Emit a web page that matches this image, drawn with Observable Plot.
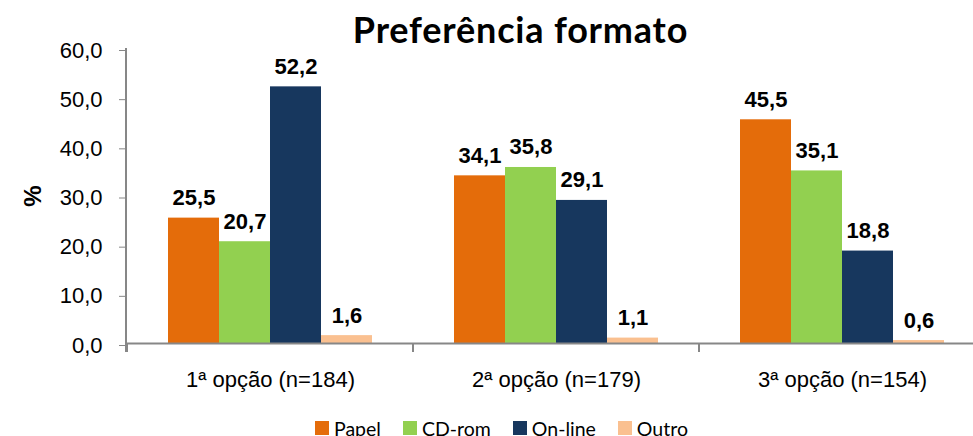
<!DOCTYPE html>
<html><head><meta charset="utf-8">
<script src="https://cdn.jsdelivr.net/npm/d3@7"></script>
<script src="https://cdn.jsdelivr.net/npm/@observablehq/plot@0.6"></script>
<style>
body{margin:0;background:#fff;width:973px;height:436px;overflow:hidden;}
#title{height:28px;width:973px;box-sizing:border-box;padding-left:68px;text-align:center;font-family:Lato,"Open Sans",sans-serif;font-weight:bold;font-size:36px;letter-spacing:0.8px;line-height:40px;padding-top:9px;color:#000;position:relative;z-index:1;white-space:nowrap;}
#chart svg{display:block;overflow:visible;}
#legend{height:36px;width:973px;box-sizing:border-box;padding-left:30px;display:flex;justify-content:center;align-items:flex-start;padding-top:21px;font-family:Lato,"Open Sans",sans-serif;font-size:19.5px;color:#000;}
#legend .item{display:flex;align-items:flex-start;margin:0 11px;}
#legend .sw{width:14px;height:14px;margin-right:5px;}
#legend .lb{line-height:14px;margin-top:1px;}
</style></head><body>
<div id="title">Preferência formato</div>
<div id="chart"></div>
<div id="legend"></div>
<script>
const categories = ["1ª opção (n=184)", "2ª opção (n=179)", "3ª opção (n=154)"];
const series = ["Papel", "CD-rom", "On-line", "Outro"];
const papel = [25.5, 34.1, 45.5];
const cdrom = [20.7, 35.8, 35.1];
const online = [52.2, 29.1, 18.8];
const outro = [1.6, 1.1, 0.6];
const yTicks = [0, 10, 20, 30, 40, 50, 60];
const colors = ["#E46C0A", "#92D050", "#17375E", "#FAC090"];

const seriesValues = [papel, cdrom, online, outro];
const data = categories.flatMap((c, i) => series.map((s, j) => ({category: c, series: s, value: seriesValues[j][i]})));
const fmt = v => v.toFixed(1).replace(".", ",");
const sans = "'Liberation Sans', Arial, sans-serif";

const plot = Plot.plot({
  width: 973, height: 372,
  marginTop: 20, marginBottom: 57, marginLeft: 126, marginRight: -12,
  style: {fontFamily: sans, color: "#000", background: "#fff"},
  fx: {domain: categories, padding: 0, label: null},
  x: {domain: series, paddingInner: 0, paddingOuter: 0.756, axis: null},
  y: {domain: [0, 60], axis: null},
  color: {domain: series, range: colors},
  marks: [
    Plot.barY(data, {fx: "category", x: "series", y: "value", fill: "series"}),
    Plot.ruleY([0], {stroke: "#878787", strokeWidth: 2}),
    Plot.text(data, {fx: "category", x: "series", y: "value", text: d => fmt(d.value), lineAnchor: "bottom", dy: -13, fontWeight: "bold", fontSize: 22, fill: "#000"}),
    Plot.axisY(yTicks, {anchor: "left", tickSize: 8, tickPadding: 17, tickFormat: fmt, stroke: "#878787", fill: "#000", fontSize: 22, dy: 2, label: "%", labelAnchor: "center", labelOffset: 104, labelArrow: "none"}),
    Plot.axisFx({anchor: "bottom", tickSize: 0, tickPadding: 28, fontSize: 22, fill: "#000", label: null})
  ]
});

// axis line and category boundary ticks, placed from Plot's own scales
const fxs = plot.scale("fx"), ys = plot.scale("y");
const y0 = ys.apply(0);
const g = d3.select(plot).append("g").attr("stroke", "#878787").attr("stroke-width", 2);
g.append("line").attr("x1", fxs.range[0]).attr("x2", fxs.range[0]).attr("y1", ys.apply(60)).attr("y2", y0 + 9);
categories.forEach(c => {
  const x = fxs.apply(c);
  g.append("line").attr("x1", x).attr("x2", x).attr("y1", y0).attr("y2", y0 + 9);
});
// style the y label
d3.select(plot).selectAll("text").filter(function(){ return this.textContent === "%"; })
  .attr("font-weight", "bold").attr("font-size", 24);

document.getElementById("chart").appendChild(plot);

const legend = d3.select("#legend");
series.forEach((s, i) => {
  const it = legend.append("div").attr("class", "item");
  it.append("div").attr("class", "sw").style("background", colors[i]);
  it.append("div").attr("class", "lb").text(s);
});
</script>
</body></html>
